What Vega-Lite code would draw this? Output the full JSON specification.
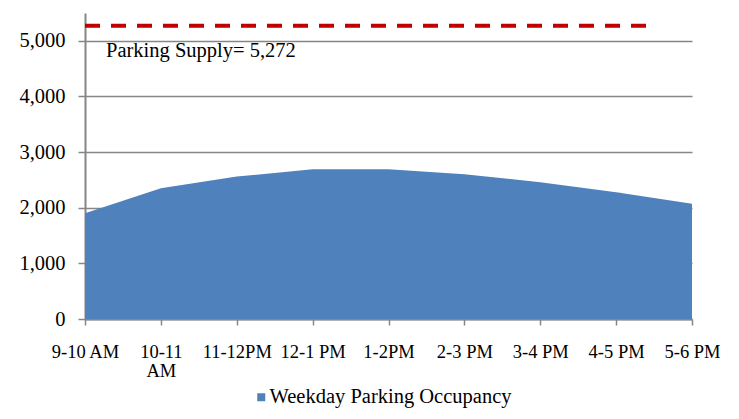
{
  "$schema": "https://vega.github.io/schema/vega-lite/v6.json",
  "autosize": "none",
  "width": 607,
  "height": 306,
  "padding": {"left": 85, "top": 13, "right": 47, "bottom": 100},
  "background": "white",
  "config": {
    "view": {"stroke": null},
    "font": "Liberation Serif",
    "text": {"font": "Liberation Serif"},
    "legend": {"labelFont": "Liberation Serif", "labelLimit": 500},
    "axis": {
      "domainColor": "#868686",
      "domainWidth": 2,
      "tickColor": "#868686",
      "tickWidth": 1.5,
      "gridColor": "#868686",
      "gridWidth": 1.5,
      "labelColor": "black",
      "labelFont": "Liberation Serif",
      "title": null
    }
  },
  "layer": [
    {
      "data": {
        "values": [
          {"period": "9-10 AM", "occupancy": 1900, "series": "Weekday Parking Occupancy"},
          {"period": "10-11 AM", "occupancy": 2350, "series": "Weekday Parking Occupancy"},
          {"period": "11-12PM", "occupancy": 2560, "series": "Weekday Parking Occupancy"},
          {"period": "12-1 PM", "occupancy": 2690, "series": "Weekday Parking Occupancy"},
          {"period": "1-2PM", "occupancy": 2690, "series": "Weekday Parking Occupancy"},
          {"period": "2-3 PM", "occupancy": 2600, "series": "Weekday Parking Occupancy"},
          {"period": "3-4 PM", "occupancy": 2460, "series": "Weekday Parking Occupancy"},
          {"period": "4-5 PM", "occupancy": 2280, "series": "Weekday Parking Occupancy"},
          {"period": "5-6 PM", "occupancy": 2070, "series": "Weekday Parking Occupancy"}
        ]
      },
      "mark": {"type": "area", "opacity": 1},
      "encoding": {
        "x": {
          "field": "period",
          "type": "ordinal",
          "sort": null,
          "scale": {
            "type": "point",
            "padding": 0,
            "domain": ["9-10 AM", "10-11 AM", "11-12PM", "12-1 PM", "1-2PM", "2-3 PM", "3-4 PM", "4-5 PM", "5-6 PM"]
          },
          "axis": {
            "labelAngle": 0,
            "tickSize": 6,
            "labelPadding": 17,
            "labelFontSize": 18.5,
            "labelLineHeight": 19,
            "labelExpr": "datum.label == '10-11 AM' ? ['10-11', 'AM'] : datum.label"
          }
        },
        "y": {
          "field": "occupancy",
          "type": "quantitative",
          "scale": {"domain": [0, 5500], "nice": false},
          "axis": {
            "values": [0, 1000, 2000, 3000, 4000, 5000],
            "format": ",.0f",
            "tickSize": 7,
            "labelPadding": 13,
            "labelFontSize": 20.5,
            "grid": true
          }
        },
        "color": {
          "field": "series",
          "type": "nominal",
          "scale": {"range": ["#4F81BD"]},
          "legend": {
            "title": null,
            "orient": "none",
            "legendX": 166,
            "legendY": 374,
            "symbolType": "square",
            "symbolSize": 64,
            "symbolOpacity": 1,
            "labelFontSize": 20.5,
            "labelFont": "Liberation Serif",
            "labelColor": "black",
            "labelLimit": 500,
            "labelOffset": -2
          }
        }
      }
    },
    {
      "data": {"values": [{"supply": 5272, "start": "9-10 AM", "end": "5-6 PM"}]},
      "mark": {"type": "rule", "color": "#C00000", "strokeWidth": 4, "strokeDash": [15, 11], "x2Offset": -38},
      "encoding": {
        "x": {"field": "start", "type": "ordinal"},
        "x2": {"field": "end"},
        "y": {"field": "supply", "type": "quantitative"}
      }
    },
    {
      "data": {"values": [{"supply": 5272, "start": "9-10 AM", "label": "Parking Supply= 5,272"}]},
      "mark": {"type": "text", "align": "left", "baseline": "middle", "dx": 21, "dy": 25, "fontSize": 20.5, "font": "Liberation Serif", "color": "black"},
      "encoding": {
        "x": {"field": "start", "type": "ordinal"},
        "y": {"field": "supply", "type": "quantitative"},
        "text": {"field": "label"}
      }
    }
  ]
}
